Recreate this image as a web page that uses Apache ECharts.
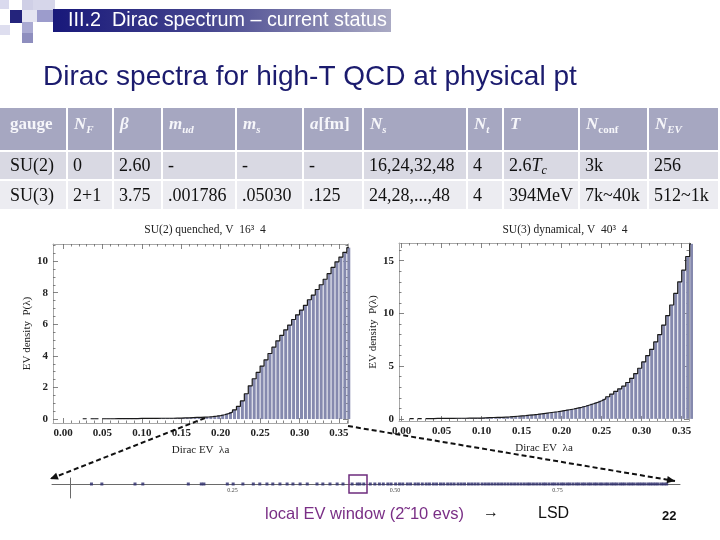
<!DOCTYPE html>
<html><head><meta charset="utf-8">
<script src="https://cdn.jsdelivr.net/npm/echarts@6/dist/echarts.min.js"></script>
<style>html,body{margin:0;padding:0;background:#fff}#c{width:720px;height:540px}</style>
</head><body><div id="c"></div>
<script>
// ---------------- data ----------------
const binCenters = [0.0025,0.0075,0.0125,0.0175,0.0225,0.0275,0.0325,0.0375,0.0425,0.0475,
  0.0525,0.0575,0.0625,0.0675,0.0725,0.0775,0.0825,0.0875,0.0925,0.0975,
  0.1025,0.1075,0.1125,0.1175,0.1225,0.1275,0.1325,0.1375,0.1425,0.1475,
  0.1525,0.1575,0.1625,0.1675,0.1725,0.1775,0.1825,0.1875,0.1925,0.1975,
  0.2025,0.2075,0.2125,0.2175,0.2225,0.2275,0.2325,0.2375,0.2425,0.2475,
  0.2525,0.2575,0.2625,0.2675,0.2725,0.2775,0.2825,0.2875,0.2925,0.2975,
  0.3025,0.3075,0.3125,0.3175,0.3225,0.3275,0.3325,0.3375,0.3425,0.3475,
  0.3525,0.3575,0.3625];
const su2Density = [0,0,0,0,0,0.02,0,0.02,0.02,0,
  0.02,0.02,0.02,0.03,0.03,0.03,0.03,0.03,0.03,0.04,
  0.04,0.04,0.04,0.04,0.05,0.05,0.05,0.05,0.06,0.06,
  0.07,0.08,0.09,0.10,0.11,0.12,0.13,0.15,0.18,0.22,
  0.27,0.34,0.44,0.58,0.80,1.15,1.60,2.10,2.55,2.95,
  3.35,3.75,4.15,4.55,4.95,5.30,5.65,5.95,6.30,6.60,
  6.90,7.20,7.55,7.85,8.20,8.50,8.85,9.20,9.60,9.95,
  10.25,10.55,10.85];
const su3Density = [0,0,0.02,0,0.02,0,0.03,0.03,0.04,0.04,
  0.05,0.05,0.05,0.06,0.06,0.06,0.07,0.07,0.08,0.08,
  0.10,0.12,0.13,0.14,0.15,0.17,0.19,0.22,0.25,0.28,
  0.31,0.35,0.39,0.43,0.48,0.53,0.58,0.63,0.68,0.74,
  0.80,0.87,0.94,1.02,1.10,1.20,1.32,1.44,1.56,1.72,
  1.90,2.10,2.35,2.60,2.85,3.10,3.45,3.85,4.30,4.80,
  5.40,6.00,6.60,7.30,8.00,8.90,9.80,10.80,11.90,13.00,
  14.10,15.40,16.60];
const xTicks = [0,0.05,0.10,0.15,0.20,0.25,0.30,0.35];
const xTickLabels = ['0.00','0.05','0.10','0.15','0.20','0.25','0.30','0.35'];
const xMinorTicks = [0.01,0.02,0.03,0.04,0.06,0.07,0.08,0.09,0.11,0.12,0.13,0.14,0.16,0.17,0.18,0.19,
  0.21,0.22,0.23,0.24,0.26,0.27,0.28,0.29,0.31,0.32,0.33,0.34,0.36];
const su2YTicks = [0,2,4,6,8,10];
const su2YTickLabels = ['0','2','4','6','8','10'];
const su2YMinor = [0.5,1,1.5,2.5,3,3.5,4.5,5,5.5,6.5,7,7.5,8.5,9,9.5,10.5,11];
const su3YTicks = [0,5,10,15];
const su3YTickLabels = ['0','5','10','15'];
const su3YMinor = [1,2,3,4,6,7,8,9,11,12,13,14,16];
const evValues = [0.033,0.049,0.100,0.112,0.182,0.202,0.206,0.242,0.251,0.266,0.282,0.292,0.303,0.312,
  0.323,0.334,0.343,0.354,0.365,0.380,0.389,0.400,0.411,0.420,0.434,0.442,0.446,0.452,0.462,0.469,
  0.476,0.482,0.489,0.494,0.501,0.507,0.512,0.519,0.524,0.531,0.536,0.542,0.548,0.553,0.559,0.564,
  0.570,0.575,0.581,0.586,0.591,0.597,0.602,0.607,0.613,0.618,0.623,0.628,0.634,0.639,0.644,0.649,
  0.654,0.659,0.664,0.669,0.674,0.679,0.684,0.689,0.694,0.699,0.704,0.708,0.713,0.718,0.723,0.728,
  0.732,0.737,0.742,0.746,0.751,0.756,0.760,0.765,0.769,0.774,0.779,0.783,0.788,0.792,0.797,0.801,
  0.806,0.810,0.815,0.819,0.824,0.828,0.833,0.837,0.841,0.846,0.850,0.854,0.859,0.863,0.867,0.872,
  0.876,0.880,0.884,0.889,0.893,0.897,0.901,0.905,0.910,0.914,0.918];
const evTicks = [0.25,0.50,0.75];
const evTickLabels = ['0.25','0.50','0.75'];
const tableHeader = ['gauge','N_F','β','m_ud','m_s','a[fm]','N_s','N_t','T','N_conf','N_EV'];
const tableRow1 = ['SU(2)','0','2.60','-','-','-','16,24,32,48','4','2.6T_c','3k','256'];
const tableRow2 = ['SU(3)','2+1','3.75','.001786','.05030','.125','24,28,...,48','4','394MeV','7k~40k','512~1k'];

// ---------------- helpers ----------------
const SERIF = '"Liberation Serif", "Times New Roman", serif';
const SANS = '"Liberation Sans", Arial, sans-serif';
const FRAME = '#a8a8a8', TICK = '#666';
const mctx = document.createElement('canvas').getContext('2d');
function tw(t, f){ mctx.font = f; return mctx.measureText(t).width; }
function lab(ticks, labels){
  return function(v){ let k=0,b=1e9; ticks.forEach((t,i)=>{const d=Math.abs(t-v); if(d<b){b=d;k=i;}}); return labels[k]; };
}
const labelStyle = {fontFamily:SERIF, fontWeight:'bold', fontSize:11, color:'#222'};
const nameStyle = {fontFamily:SERIF, fontSize:11, color:'#222'};
function mkAxis(gi, min, max, pos, ticks, len, showLine, labels, name, nameGap, isY){
  const a = {type:'value', gridIndex:gi, min:min, max:max, position:pos,
    axisLine:{show:showLine, onZero:false, lineStyle:{color:FRAME, width:1}},
    axisTick:{show:true, inside:true, length:len, customValues:ticks, lineStyle:{color:TICK, width:0.8}},
    axisLabel: labels ? Object.assign({show:true, customValues:ticks, formatter:lab(ticks,labels), margin:5}, labelStyle) : {show:false},
    splitLine:{show:false}, minorTick:{show:false}};
  if (name){ a.name = name; a.nameLocation='middle'; a.nameGap=nameGap; a.nameTextStyle=nameStyle; if(isY) a.nameRotate=90; }
  return a;
}
function plotAxes(gi, xr, yr, yT, yL, yMin, xName, yName, xGap, yGap){
  const xs = [
    mkAxis(gi, xr[0], xr[1], 'bottom', xTicks, 5, true, xTickLabels, xName, xGap, false),
    mkAxis(gi, xr[0], xr[1], 'bottom', xMinorTicks, 2.5, false, null),
    mkAxis(gi, xr[0], xr[1], 'top', xTicks, 5, true, null),
    mkAxis(gi, xr[0], xr[1], 'top', xMinorTicks, 2.5, false, null)];
  const ys = [
    mkAxis(gi, yr[0], yr[1], 'left', yT, 5, true, yL, yName, yGap, true),
    mkAxis(gi, yr[0], yr[1], 'left', yMin, 2.5, false, null),
    mkAxis(gi, yr[0], yr[1], 'right', yT, 5, true, null),
    mkAxis(gi, yr[0], yr[1], 'right', yMin, 2.5, false, null)];
  return {xs, ys};
}
const A = plotAxes(0, [-0.0127, 0.3615], [-0.25, 11.08], su2YTicks, su2YTickLabels, su2YMinor,
  'Dirac EV  λa', 'EV density  P(λ)', 22, 19);
const B = plotAxes(1, [-0.0034, 0.3591], [-0.2, 16.68], su3YTicks, su3YTickLabels, su3YMinor,
  'Dirac EV  λa', 'EV density  P(λ)', 22, 20);
const xAxes = A.xs.concat(B.xs);
const yAxes = A.ys.concat(B.ys);
// number line
xAxes.push({type:'value', gridIndex:2, min:-0.0277, max:0.9385, position:'bottom',
  axisLine:{show:true, onZero:true, lineStyle:{color:'#6a6a6a', width:1}},
  axisTick:{show:false},
  axisLabel:{show:true, customValues:evTicks, formatter:lab(evTicks, evTickLabels), margin:-11, fontSize:6, fontFamily:SERIF, color:'#444'},
  splitLine:{show:false}});
yAxes.push({type:'value', gridIndex:2, min:-1.4, max:0.6,
  axisLine:{show:true, onZero:true, lineStyle:{color:'#6a6a6a', width:1}},
  axisTick:{show:false}, axisLabel:{show:false}, splitLine:{show:false}});

function histSeries(xi, yi, vals){
  return [{type:'bar', xAxisIndex:xi, yAxisIndex:yi, barWidth:3, barGap:'-100%', silent:true,
      itemStyle:{color:'#8589ae'}, data: binCenters.map((c,i)=>[c, vals[i]])},
    {type:'line', xAxisIndex:xi, yAxisIndex:yi, step:'middle', symbol:'none', silent:true, z:5,
      lineStyle:{color:'#1a1a1a', width:1.2},
      data: binCenters.map((c,i)=>[c, vals[i] > 0 ? vals[i] : null])}];
}

// ---------------- graphics ----------------
const g = [];
// decorative squares
[[0,0,9,9,'#dadaee'],[22,0,11,10,'#cfcfe6'],[33,0,22,12,'#d6d6ea'],[10,10,12,13,'#24247c'],
 [22,10,15,12,'#e4e4f1'],[37,10,16,12,'#9c9ccc'],[0,25,10,10,'#dedeef'],[22,22,11,11,'#aaaad2'],
 [22,33,11,10,'#8e8ebe']].forEach(r=>g.push({type:'rect', shape:{x:r[0],y:r[1],width:r[2],height:r[3]}, style:{fill:r[4]}, silent:true}));
g.push({type:'rect', shape:{x:53,y:9,width:338,height:23}, silent:true,
  style:{fill:new echarts.graphic.LinearGradient(0,0,1,0,[{offset:0,color:'#18187a'},{offset:0.45,color:'#44448e'},{offset:1,color:'#aaaac4'}])}});
g.push({type:'text', silent:true, style:{text:'III.2  Dirac spectrum – current status', x:68, y:21, font:'19.8px '+SANS, fill:'#ffffff', verticalAlign:'middle'}});
g.push({type:'text', silent:true, style:{text:'Dirac spectra for high-T QCD at physical pt', x:43, y:77, font:'28px '+SANS, fill:'#1b1b6e', verticalAlign:'middle'}});

// table
const colX = [0,68,114,163,237,304,364,468,504,580,649];
const colW = [66,44,47,72,65,58,102,34,74,67,69];
const rowsY = [[108,42,'#a6a7c1'],[152,27,'#d9d9e3'],[181,28,'#ececf1']];
rowsY.forEach(r=>colX.forEach((x,i)=>g.push({type:'rect', silent:true, shape:{x:x,y:r[0],width:colW[i],height:r[1]}, style:{fill:r[2]}})));
const HB = 'bold 17px '+SERIF, HBI = 'italic bold 17px '+SERIF, HSI = 'italic bold 11px '+SERIF, HSB = 'bold 11px '+SERIF;
const BR = '18px '+SERIF, BI = 'italic 18px '+SERIF, BSI = 'italic 12px '+SERIF;
function putParts(parts, x, y, fill){
  parts.forEach(p=>{ g.push({type:'text', silent:true, style:{text:p.t, x:x, y:y+(p.dy||0), font:p.f, fill:fill, verticalAlign:'middle'}}); x += tw(p.t, p.f); });
}
tableHeader.forEach((h,i)=>{
  let parts;
  if (h === 'gauge') parts = [{t:h, f:HB}];
  else if (h === 'a[fm]') parts = [{t:'a', f:HBI},{t:'[fm]', f:HB}];
  else if (h.indexOf('_') > 0){ const s = h.split('_'); parts = [{t:s[0], f:HBI},{t:s[1], f:(s[1].length>2?HSB:HSI), dy:5}]; }
  else parts = [{t:h, f:HBI}];
  putParts(parts, colX[i]+(i===0?10:6), 125, '#f6f6fa');
});
function bodyRow(row, y){
  row.forEach((c,i)=>{
    let parts;
    const m = c.match(/^(.*?)([A-Za-z])_(\w+)$/);
    if (m) parts = [{t:m[1], f:BR},{t:m[2], f:BI},{t:m[3], f:BSI, dy:5}];
    else parts = [{t:c, f:BR}];
    putParts(parts, colX[i]+(i===0?10:5), y, '#111');
  });
}
bodyRow(tableRow1, 166);
bodyRow(tableRow2, 196);

// plot titles
g.push({type:'text', silent:true, style:{text:'SU(2) quenched, V  16³  4', x:205, y:230, font:'11.5px '+SERIF, fill:'#222', align:'center', verticalAlign:'middle'}});
g.push({type:'text', silent:true, style:{text:'SU(3) dynamical, V  40³  4', x:565, y:230, font:'11.5px '+SERIF, fill:'#222', align:'center', verticalAlign:'middle'}});

// dashed arrows
function arrow(x1,y1,x2,y2){
  g.push({type:'line', silent:true, z:50, shape:{x1:x1,y1:y1,x2:x2,y2:y2}, style:{stroke:'#111', lineWidth:2, lineDash:[5,3]}});
  const dx=x2-x1, dy=y2-y1, L=Math.hypot(dx,dy), ux=dx/L, uy=dy/L, s=8;
  g.push({type:'polygon', silent:true, z:50, shape:{points:[[x2,y2],[x2-ux*s-uy*s*0.45, y2-uy*s+ux*s*0.45],[x2-ux*s+uy*s*0.45, y2-uy*s-ux*s*0.45]]}, style:{fill:'#111'}});
}
arrow(205,418,50,479);
arrow(348,426,675,481);
// window box
g.push({type:'rect', silent:true, z:50, shape:{x:349,y:475,width:18,height:18}, style:{fill:'none', stroke:'#6e2c7e', lineWidth:1.5}});
g.push({type:'text', silent:true, style:{text:'local EV window (2˜10 evs)', x:265, y:514, font:'16.5px '+SANS, fill:'#7a2f86', verticalAlign:'middle'}});
g.push({type:'text', silent:true, style:{text:'→', x:483, y:513, font:'16px '+SANS, fill:'#111', verticalAlign:'middle'}});
g.push({type:'text', silent:true, style:{text:'LSD', x:538, y:514, font:'16px '+SANS, fill:'#111', verticalAlign:'middle'}});
g.push({type:'text', silent:true, style:{text:'22', x:662, y:516, font:'bold 13px '+SANS, fill:'#111', verticalAlign:'middle'}});

const option = {
  animation:false,
  backgroundColor:'#ffffff',
  grid:[{left:53, top:244, width:295, height:179},
        {left:399, top:243, width:290, height:178},
        {left:52, top:478, width:628, height:20}],
  xAxis:xAxes, yAxis:yAxes,
  series: histSeries(0,0,su2Density).concat(histSeries(4,4,su3Density)).concat([
    {type:'scatter', xAxisIndex:8, yAxisIndex:8, symbol:'rect', symbolSize:[3,3], silent:true,
      itemStyle:{color:'#2c2c6c'}, data: evValues.map(v=>[v,0])}]),
  graphic: g
};
echarts.init(document.getElementById('c')).setOption(option);
</script></body></html>
